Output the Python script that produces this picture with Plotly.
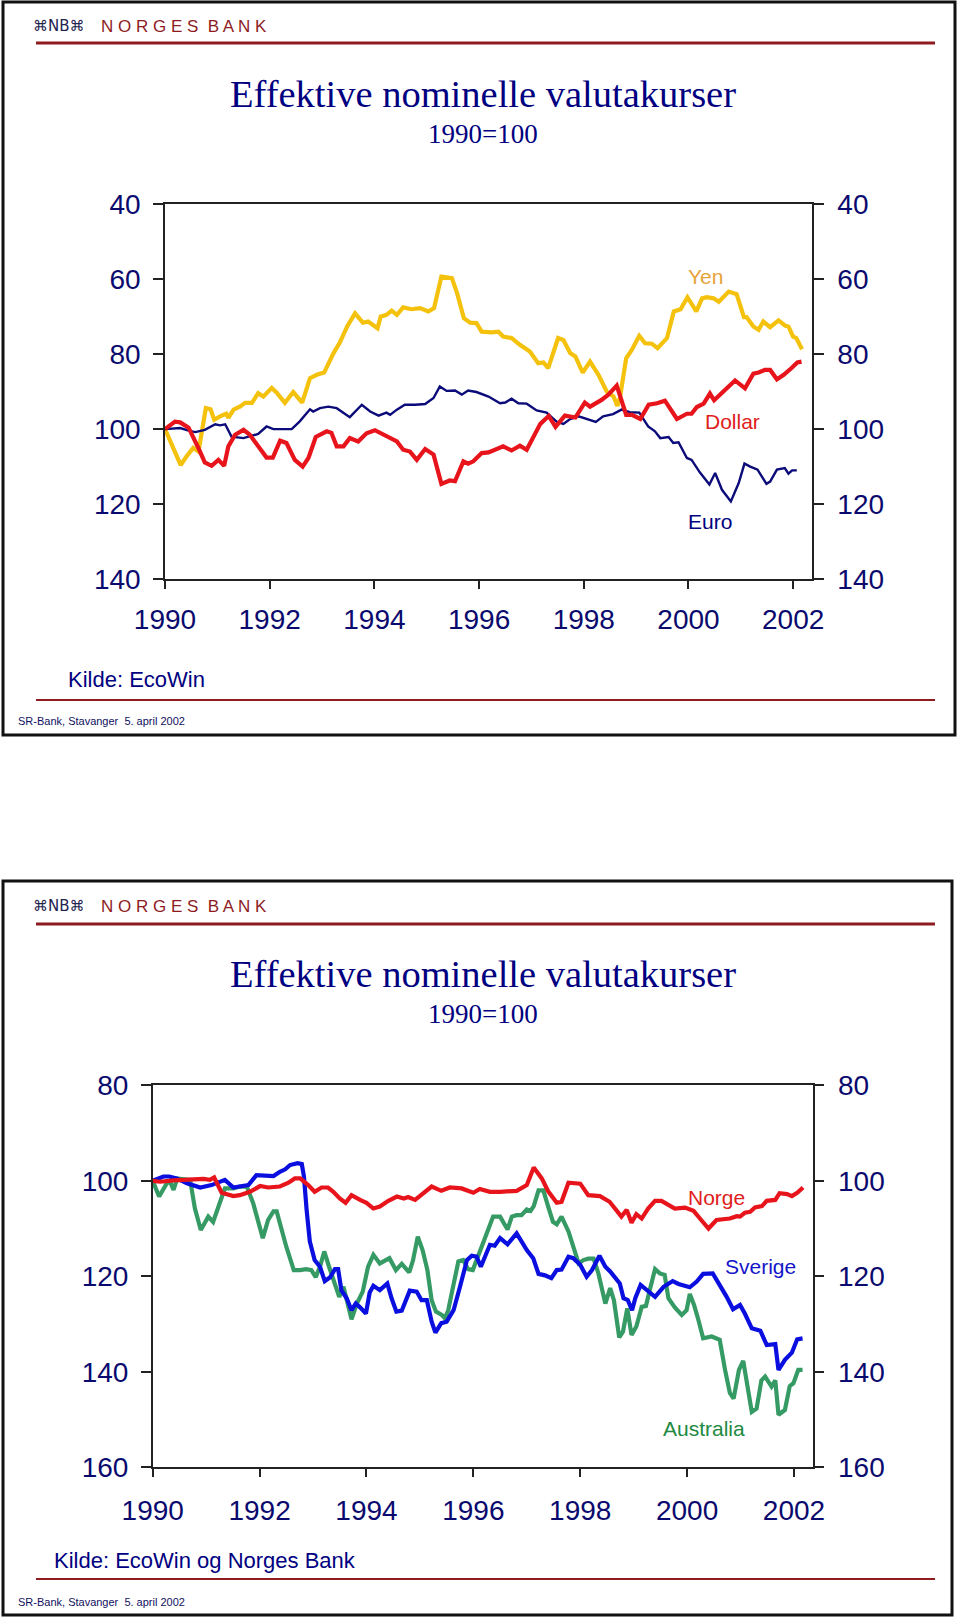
import plotly.graph_objects as go

# ---------------- data ----------------
YEARS_TICKS = [1990, 1992, 1994, 1996, 1998, 2000, 2002]
TOP_Y_TICKS = [40, 60, 80, 100, 120, 140]
BOT_Y_TICKS = [80, 100, 120, 140, 160]

YEN_X = [1990.00, 1990.30, 1990.41, 1990.54, 1990.64, 1990.78, 1990.87, 1990.94, 1991.05, 1991.17,
         1991.21, 1991.31, 1991.43, 1991.53, 1991.66, 1991.78, 1991.88, 1992.04, 1992.13, 1992.29,
         1992.45, 1992.53, 1992.62, 1992.77, 1992.90, 1993.04, 1993.22, 1993.34, 1993.48, 1993.63,
         1993.78, 1993.88, 1994.06, 1994.12, 1994.23, 1994.33, 1994.43, 1994.55, 1994.71, 1994.87,
         1995.03, 1995.14, 1995.28, 1995.48, 1995.58, 1995.71, 1995.83, 1995.95, 1996.05, 1996.24,
         1996.37, 1996.46, 1996.62, 1996.78, 1996.97, 1997.13, 1997.23, 1997.32, 1997.51, 1997.61,
         1997.74, 1997.84, 1997.98, 1998.12, 1998.28, 1998.44, 1998.57, 1998.64, 1998.69, 1998.81,
         1998.92, 1999.06, 1999.17, 1999.30, 1999.41, 1999.59, 1999.72, 1999.85, 1999.98, 2000.15,
         2000.26, 2000.35, 2000.48, 2000.58, 2000.77, 2000.92, 2001.06, 2001.11, 2001.24, 2001.34,
         2001.43, 2001.56, 2001.72, 2001.85, 2001.91, 2002.00, 2002.06, 2002.17]
YEN_Y = [100, 109.6, 107.3, 105, 106, 94.4, 94.7, 97.5, 96.6, 95.9,
         97, 94.8, 94, 93, 93, 90.4, 91.3, 89, 90.2, 93,
         90.1, 91.3, 92.9, 86.4, 85.5, 84.9, 79.7, 76.9, 72.6, 69.1,
         71.6, 71.3, 73.1, 70, 69.5, 68.4, 69.5, 67.5, 68, 67.7,
         68.6, 67.7, 59.3, 59.7, 63.7, 70.4, 71.6, 71.7, 74, 74.2,
         74, 75.3, 75.7, 77.5, 79.3, 82.4, 82.2, 83.7, 75.7, 76.2,
         79.7, 80.6, 84.9, 82, 85.5, 90, 91.3, 93.8, 91.7, 81.1,
         78.8, 75.1, 77.1, 77.2, 78.4, 75.7, 68.6, 68, 64.8, 68.6,
         65.1, 64.8, 65.1, 66, 63.3, 64, 70.1, 70.1, 72.6, 73.5,
         71.3, 72.8, 71, 72.4, 72.6, 75.3, 75.7, 78.7]

EURO_X = [1990.00, 1990.29, 1990.45, 1990.58, 1990.76, 1990.96, 1991.05, 1991.15, 1991.27, 1991.50,
          1991.78, 1991.94, 1992.07, 1992.42, 1992.57, 1992.77, 1992.83, 1992.96, 1993.12, 1993.28,
          1993.53, 1993.76, 1993.92, 1994.08, 1994.23, 1994.30, 1994.43, 1994.58, 1994.78, 1994.97,
          1995.13, 1995.25, 1995.38, 1995.54, 1995.67, 1995.79, 1995.95, 1996.18, 1996.40, 1996.50,
          1996.62, 1996.75, 1996.91, 1997.10, 1997.29, 1997.48, 1997.61, 1997.74, 1997.90, 1998.05,
          1998.23, 1998.37, 1998.56, 1998.72, 1998.88, 1999.06, 1999.23, 1999.36, 1999.46, 1999.62,
          1999.71, 1999.81, 1999.97, 2000.06, 2000.22, 2000.40, 2000.51, 2000.64, 2000.81, 2000.96,
          2001.07, 2001.18, 2001.32, 2001.49, 2001.56, 2001.69, 2001.84, 2001.91, 2001.98, 2002.07]
EURO_Y = [100, 99.7, 100.4, 100.8, 100.2, 98.7, 99, 98.7, 102, 102.4,
          101.3, 99.3, 100, 100, 98, 94.7, 95.3, 94.4, 94, 94.4,
          96.8, 93.5, 95.3, 96.4, 95.6, 96.2, 94.8, 93.5, 93.5, 93.3,
          91.7, 88.6, 89.8, 89.7, 90.8, 89.7, 90.1, 91.3, 93.1, 92.9,
          91.9, 93.1, 93.2, 95, 95.6, 98, 98.6, 97.3, 96.6, 97.3,
          98.1, 96.6, 96, 94.8, 95.5, 95.6, 99.3, 100.6, 102.4, 102.1,
          103.7, 103.5, 107.7, 108.2, 111.6, 114.8, 111.7, 116.2, 119.3, 114.4,
          109.2, 110, 110.8, 114.6, 114, 110.8, 110.4, 111.9, 111, 111]

DOLLAR_X = [1990.00, 1990.19, 1990.29, 1990.45, 1990.64, 1990.76, 1990.89, 1991.02, 1991.13, 1991.21,
            1991.34, 1991.50, 1991.62, 1991.78, 1991.94, 1992.06, 1992.20, 1992.32, 1992.48, 1992.63,
            1992.74, 1992.88, 1993.09, 1993.18, 1993.28, 1993.41, 1993.53, 1993.69, 1993.85, 1994.01,
            1994.23, 1994.43, 1994.55, 1994.68, 1994.81, 1994.97, 1995.13, 1995.28, 1995.44, 1995.54,
            1995.70, 1995.79, 1995.89, 1996.05, 1996.18, 1996.46, 1996.62, 1996.78, 1996.91, 1997.05,
            1997.17, 1997.33, 1997.46, 1997.64, 1997.84, 1998.02, 1998.12, 1998.34, 1998.47, 1998.63,
            1998.73, 1998.81, 1998.92, 1999.08, 1999.24, 1999.40, 1999.55, 1999.78, 1999.97, 2000.06,
            2000.16, 2000.29, 2000.41, 2000.49, 2000.89, 2001.08, 2001.24, 2001.34, 2001.46, 2001.56,
            2001.69, 2001.82, 2001.97, 2002.08, 2002.16]
DOLLAR_Y = [100, 98, 98.2, 99.6, 105.1, 108.9, 109.8, 108.2, 109.8, 104.6,
            101.5, 100.2, 101.5, 104.6, 107.6, 107.6, 103.1, 103.7, 108.2, 110,
            107.7, 102.1, 100.6, 101, 104.6, 104.6, 102.4, 103.3, 101.1, 100.3,
            102, 103.3, 105.5, 106, 108.2, 105.3, 106.8, 114.6, 113.7, 113.9,
            108.6, 109.2, 108.6, 106.4, 106.2, 104.6, 105.7, 104.4, 105.5, 102,
            98.6, 96.5, 99.4, 96.4, 96.9, 92.9, 94, 92.2, 90.8, 88.4,
            93.1, 96.2, 96.2, 97.3, 93.5, 93.1, 92.4, 97.3, 95.9, 95.9,
            94.1, 93.2, 90.5, 92.3, 87, 89.1, 85.2, 84.9, 84.2, 84.2,
            86.7, 85.5, 83.7, 82.2, 82]

NORGE_X = [1990.00, 1990.14, 1990.39, 1990.70, 1990.95, 1991.07, 1991.15, 1991.29, 1991.51, 1991.63,
           1991.82, 1992.01, 1992.16, 1992.38, 1992.54, 1992.66, 1992.76, 1992.91, 1993.03, 1993.16,
           1993.28, 1993.38, 1993.50, 1993.61, 1993.72, 1993.88, 1994.00, 1994.13, 1994.25, 1994.41,
           1994.57, 1994.70, 1994.78, 1994.91, 1995.03, 1995.22, 1995.40, 1995.56, 1995.78, 1996.00,
           1996.12, 1996.31, 1996.50, 1996.81, 1997.00, 1997.13, 1997.28, 1997.40, 1997.56, 1997.65,
           1997.78, 1997.90, 1998.00, 1998.15, 1998.37, 1998.55, 1998.77, 1998.87, 1998.96, 1999.05,
           1999.15, 1999.27, 1999.40, 1999.52, 1999.65, 1999.77, 1999.96, 2000.12, 2000.24, 2000.40,
           2000.55, 2000.80, 2000.93, 2000.99, 2001.08, 2001.18, 2001.27, 2001.40, 2001.49, 2001.65,
           2001.73, 2001.87, 2001.96, 2002.06, 2002.17]
NORGE_Y = [100, 100.2, 99.9, 99.7, 99.6, 99.8, 99.3, 102.5, 103.2, 103,
           102.3, 101.1, 101.4, 101.2, 100.4, 99.5, 99.5, 100.9, 102.3, 101.4,
           101.4, 102.3, 103.7, 104.6, 103, 104, 104.6, 105.8, 105.4, 104.2,
           103.3, 103.7, 103.4, 104, 103, 101.2, 102.1, 101.4, 101.6, 102.5,
           101.7, 102.3, 102.3, 102.1, 100.9, 97.2, 99.5, 102.2, 104.6, 104.4,
           100.4, 100.6, 100.6, 103, 103.2, 104.4, 107.5, 106.1, 108.8, 107,
           107.9, 105.8, 104.2, 104.2, 105.1, 105.8, 105.6, 106.3, 107.9, 110,
           108.2, 107.9, 107.4, 107.5, 106.7, 106.5, 105.6, 105.3, 104.2, 104,
           102.6, 102.8, 103.2, 102.5, 101.4]

SVERIGE_X = [1990.00, 1990.20, 1990.31, 1990.45, 1990.64, 1990.89, 1991.10, 1991.35, 1991.51, 1991.63,
             1991.79, 1991.94, 1992.13, 1992.26, 1992.38, 1992.48, 1992.57, 1992.71, 1992.79, 1992.83,
             1992.88, 1992.94, 1993.03, 1993.13, 1993.22, 1993.32, 1993.41, 1993.47, 1993.53, 1993.63,
             1993.72, 1993.80, 1993.88, 1993.99, 1994.06, 1994.13, 1994.25, 1994.39, 1994.47, 1994.56,
             1994.66, 1994.81, 1994.94, 1995.03, 1995.13, 1995.22, 1995.29, 1995.40, 1995.50, 1995.63,
             1995.75, 1995.88, 1995.97, 1996.06, 1996.14, 1996.22, 1996.31, 1996.40, 1996.50, 1996.64,
             1996.81, 1997.00, 1997.12, 1997.22, 1997.34, 1997.46, 1997.56, 1997.65, 1997.78, 1997.87,
             1998.00, 1998.12, 1998.22, 1998.36, 1998.47, 1998.56, 1998.74, 1998.81, 1998.89, 1998.97,
             1999.03, 1999.13, 1999.25, 1999.40, 1999.56, 1999.73, 1999.84, 2000.05, 2000.18, 2000.30,
             2000.48, 2000.61, 2000.74, 2000.86, 2000.99, 2001.08, 2001.21, 2001.37, 2001.49, 2001.65,
             2001.71, 2001.83, 2001.96, 2002.06, 2002.16]
SVERIGE_Y = [100, 99.1, 99.1, 99.5, 100.5, 101.4, 100.9, 99.8, 101.4, 101.1,
             100.9, 98.8, 98.8, 99, 98.1, 97.6, 96.7, 96.3, 96.5, 99.1,
             106.1, 112.7, 116.6, 118, 121, 120.2, 118.5, 118.5, 122.9, 124.6,
             127.1, 125.7, 126.5, 127.8, 123.4, 122, 122.9, 121.5, 124.6, 127.4,
             127.2, 123, 123.2, 125, 125, 129.5, 131.8, 129.8, 129.5, 127.1,
             122.2, 116.6, 115.7, 115.9, 118, 115.9, 113.4, 113.6, 112, 113.3,
             111, 114.5, 116.2, 119.5, 119.8, 120.4, 118.7, 118.6, 115.9, 116.2,
             117.6, 120.1, 118.7, 115.7, 118, 119, 121.5, 124.6, 125, 127.1,
             124.6, 121.8, 122.9, 124.3, 122.2, 121, 121.6, 122.3, 121.1, 119.5,
             119.4, 121.8, 124.3, 126.9, 126, 127.8, 130.9, 131.4, 134.4, 134.2,
             139.6, 137.5, 136, 133.2, 133]

AUSTRALIA_X = [1990.00, 1990.12, 1990.26, 1990.32, 1990.39, 1990.46, 1990.70, 1990.79, 1990.90, 1991.04,
               1991.13, 1991.29, 1991.35, 1991.51, 1991.63, 1991.76, 1991.88, 1992.06, 1992.16, 1992.26,
               1992.32, 1992.50, 1992.64, 1992.76, 1992.87, 1992.97, 1993.05, 1993.13, 1993.21, 1993.30,
               1993.41, 1993.49, 1993.57, 1993.64, 1993.72, 1993.82, 1993.93, 1994.03, 1994.13, 1994.25,
               1994.43, 1994.55, 1994.66, 1994.80, 1994.87, 1994.96, 1995.05, 1995.14, 1995.22, 1995.30,
               1995.41, 1995.47, 1995.53, 1995.62, 1995.72, 1995.81, 1995.90, 1995.99, 1996.06, 1996.19,
               1996.37, 1996.50, 1996.56, 1996.64, 1996.72, 1996.81, 1996.90, 1997.00, 1997.07, 1997.13,
               1997.22, 1997.31, 1997.40, 1997.49, 1997.56, 1997.65, 1997.78, 1997.87, 1997.97, 1998.06,
               1998.15, 1998.25, 1998.34, 1998.47, 1998.56, 1998.63, 1998.73, 1998.80, 1998.88, 1998.96,
               1999.05, 1999.15, 1999.23, 1999.30, 1999.40, 1999.49, 1999.58, 1999.65, 1999.77, 1999.90,
               1999.99, 2000.05, 2000.13, 2000.21, 2000.30, 2000.46, 2000.61, 2000.71, 2000.80, 2000.87,
               2000.97, 2001.05, 2001.12, 2001.21, 2001.30, 2001.39, 2001.46, 2001.52, 2001.58, 2001.65,
               2001.71, 2001.83, 2001.92, 2001.99, 2002.08, 2002.16]
AUSTRALIA_Y = [100, 103.3, 100.6, 100.1, 101.9, 99.5, 99.8, 105.8, 110.3, 107.5,
               108.6, 103.2, 101.6, 101.6, 101.2, 101.2, 104.7, 112, 108.2, 106.4,
               106.4, 113.8, 118.7, 118.7, 118.5, 118.7, 120.2, 118, 114.8, 118,
               121.5, 124.3, 122.2, 125, 129, 125.7, 123.2, 118, 115.5, 117.3,
               116.2, 118.7, 117.4, 119.2, 116.7, 111.7, 114.5, 118.7, 125, 127.4,
               128.1, 128.8, 127.1, 122.2, 116.9, 116.6, 118.5, 118.7, 116.6, 113.1,
               107.5, 107.5, 108.6, 110.2, 107.5, 107.2, 107.2, 106, 106.3, 105.3,
               102, 102, 105.4, 108.6, 109.1, 107.5, 110.6, 113.8, 117.3, 116.6,
               116.3, 116.3, 119.4, 125.7, 122.5, 125, 132.8, 131.6, 126.7, 132.3,
               130.5, 126.4, 126.2, 122.9, 118.5, 119.4, 119.7, 124.6, 126.5, 128.1,
               127.1, 123.7, 126, 129.1, 133, 132.6, 133.3, 139.6, 144.4, 145.6,
               139.6, 137.7, 142.1, 148.4, 147.7, 141.8, 141, 142.1, 143.1, 141.8,
               149, 148, 143, 142.4, 139.6, 139.6]

for a, b in [(YEN_X, YEN_Y), (EURO_X, EURO_Y), (DOLLAR_X, DOLLAR_Y), (NORGE_X, NORGE_Y),
             (SVERIGE_X, SVERIGE_Y), (AUSTRALIA_X, AUSTRALIA_Y)]:
    assert len(a) == len(b), (len(a), len(b))

# ---------------- styling ----------------
W, H = 960, 1620
NAVY = "#000080"
TICK_NAVY = "#0a0a6e"
MAROON = "#8e1b1f"
AXIS_COL = "#222222"
TICK_FONT = dict(family="Liberation Sans, Arial, sans-serif", size=28, color=TICK_NAVY)


def fx(p):
    return p / W


def fy(p):
    return 1 - p / H


fig = go.Figure()

# top chart
fig.add_trace(go.Scatter(x=YEN_X, y=YEN_Y, mode="lines", line=dict(color="#f4c20d", width=4.2),
                         xaxis="x", yaxis="y", hoverinfo="skip"))
fig.add_trace(go.Scatter(x=EURO_X, y=EURO_Y, mode="lines", line=dict(color="#0b0b7a", width=2.4),
                         xaxis="x", yaxis="y", hoverinfo="skip"))
fig.add_trace(go.Scatter(x=DOLLAR_X, y=DOLLAR_Y, mode="lines", line=dict(color="#e8141b", width=4.2),
                         xaxis="x", yaxis="y2", hoverinfo="skip"))
# bottom chart
fig.add_trace(go.Scatter(x=AUSTRALIA_X, y=AUSTRALIA_Y, mode="lines", line=dict(color="#369a64", width=4.2),
                         xaxis="x2", yaxis="y3", hoverinfo="skip"))
fig.add_trace(go.Scatter(x=SVERIGE_X, y=SVERIGE_Y, mode="lines", line=dict(color="#0a0fe0", width=4.2),
                         xaxis="x2", yaxis="y3", hoverinfo="skip"))
fig.add_trace(go.Scatter(x=NORGE_X, y=NORGE_Y, mode="lines", line=dict(color="#e8141b", width=4.2),
                         xaxis="x2", yaxis="y4", hoverinfo="skip"))

common_x = dict(tickmode="array", tickvals=YEARS_TICKS, ticktext=[str(v) for v in YEARS_TICKS],
                ticks="outside", ticklen=8, tickwidth=1.5, tickcolor=AXIS_COL,
                showline=True, linecolor=AXIS_COL, linewidth=1.5, mirror=True, automargin=False,
                showgrid=False, zeroline=False, tickfont=TICK_FONT)
common_y = dict(tickmode="array", ticks="outside", ticklen=10, tickwidth=1.5, tickcolor=AXIS_COL,
                showline=True, linecolor=AXIS_COL, linewidth=1.5, automargin=False,
                showgrid=False, zeroline=False, tickfont=TICK_FONT)

fig.update_layout(
    width=W, height=H, autosize=False,
    margin=dict(l=0, r=0, t=0, b=0, pad=0, autoexpand=False),
    paper_bgcolor="white", plot_bgcolor="white", showlegend=False,
    xaxis=dict(domain=[fx(165), fx(812)], range=[1990, 2002.36], anchor="y",
               ticklabelstandoff=7, **common_x),
    yaxis=dict(domain=[fy(579), fy(204.3)], range=[140, 40], anchor="x", ticklabelstandoff=7,
               tickvals=TOP_Y_TICKS, ticktext=[str(v) for v in TOP_Y_TICKS], side="left", **common_y),
    yaxis2=dict(range=[140, 40], anchor="x", overlaying="y", side="right", ticklabelstandoff=8,
                tickvals=TOP_Y_TICKS, ticktext=[str(v) for v in TOP_Y_TICKS], **common_y),
    xaxis2=dict(domain=[fx(152.7), fx(812.7)], range=[1990, 2002.35], anchor="y3",
                ticklabelstandoff=9, **common_x),
    yaxis3=dict(domain=[fy(1467.3), fy(1085.3)], range=[160, 80], anchor="x2", ticklabelstandoff=7,
                tickvals=BOT_Y_TICKS, ticktext=[str(v) for v in BOT_Y_TICKS], side="left", **common_y),
    yaxis4=dict(range=[160, 80], anchor="x2", overlaying="y3", side="right", ticklabelstandoff=8,
                tickvals=BOT_Y_TICKS, ticktext=[str(v) for v in BOT_Y_TICKS], **common_y),
)

shapes = []
# slide frames
for (x0, y0, x1, y1) in [(3, 2, 955, 735), (3, 881, 952, 1615)]:
    shapes.append(dict(type="rect", xref="paper", yref="paper", x0=fx(x0), x1=fx(x1), y0=fy(y1), y1=fy(y0),
                       line=dict(color="#111111", width=3), fillcolor="rgba(0,0,0,0)", layer="above"))
# header rules and footer rules
for (y, w) in [(43, 3), (700, 2.2), (924, 3), (1579, 2.2)]:
    shapes.append(dict(type="line", xref="paper", yref="paper", x0=fx(36), x1=fx(935), y0=fy(y), y1=fy(y),
                       line=dict(color=MAROON, width=w)))
fig.update_layout(shapes=shapes)

ann = []


def txt(text, x, y, size, color, family="Liberation Sans, Arial, sans-serif", xanchor="left", yanchor="middle"):
    ann.append(dict(text=text, x=fx(x), y=fy(y), xref="paper", yref="paper", showarrow=False,
                    xanchor=xanchor, yanchor=yanchor, font=dict(family=family, size=size, color=color)))


for off, kilde, ky, kx in [(0, "Kilde: EcoWin", 679, 66), (880, "Kilde: EcoWin og Norges Bank", 1560, 52)]:
    txt("⌘NB⌘", 31, 26 + off, 15, "#23234f", family="DejaVu Sans, sans-serif")
    txt("N O R G E S  B A N K", 99, 26 + off, 17, MAROON)
    txt("Effektive nominelle valutakurser", 483, 94 + off, 38.5, NAVY,
        family="Liberation Serif, Times New Roman, serif", xanchor="center")
    txt("1990=100", 483, 134 + off, 27, NAVY,
        family="Liberation Serif, Times New Roman, serif", xanchor="center")
    txt(kilde, kx, ky, 22, NAVY)

txt("SR-Bank, Stavanger  5. april 2002", 16, 721, 11, "#101060")
txt("SR-Bank, Stavanger  5. april 2002", 16, 1602, 11, "#101060")

# series labels (data coordinates)
def lab(text, x, y, color, xref, yref):
    ann.append(dict(text=text, x=x, y=y, xref=xref, yref=yref, showarrow=False, xanchor="center",
                    yanchor="middle", font=dict(family="Liberation Sans, Arial, sans-serif", size=21, color=color)))


lab("Yen", 2000.32, 59.4, "#e6a33a", "x", "y")
lab("Dollar", 2000.85, 98.0, "#e0201b", "x", "y")
lab("Euro", 2000.41, 124.7, NAVY, "x", "y")
lab("Norge", 2000.55, 103.6, "#e0201b", "x2", "y3")
lab("Sverige", 2001.38, 118.0, "#1414c8", "x2", "y3")
lab("Australia", 2000.31, 151.8, "#21893f", "x2", "y3")

fig.update_layout(annotations=ann)

fig.write_html("out.html", config={"displayModeBar": False},
               post_script="document.body.style.margin='0';document.body.style.padding='0';")
